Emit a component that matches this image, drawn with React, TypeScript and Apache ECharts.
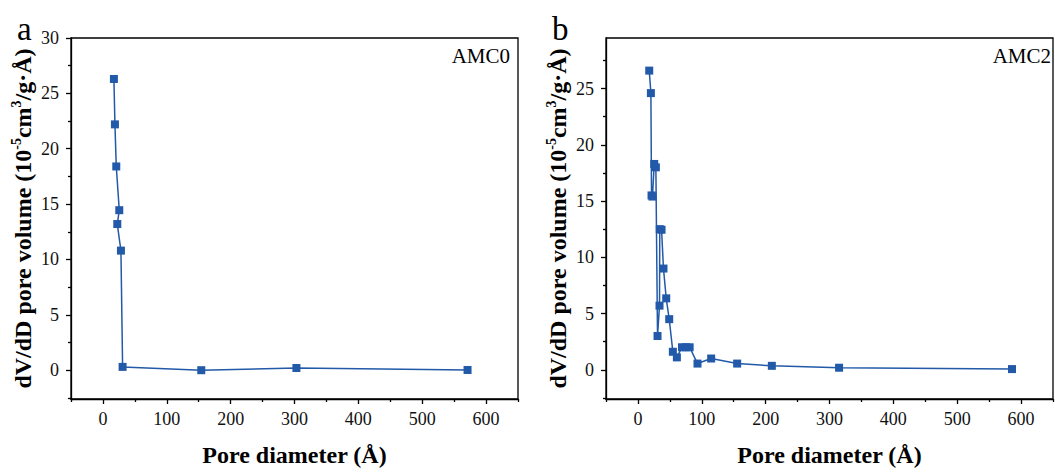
import React, { useEffect, useRef } from "react";
import * as echarts from "echarts";

// Panel a: AMC0
const amc0X = [17.2, 18.8, 20.9, 25.6, 22.5, 28.2, 30.8, 154, 303, 571];
const amc0Y = [26.3, 22.2, 18.4, 14.45, 13.2, 10.8, 0.3, 0.0, 0.2, 0.02];

// Panel b: AMC2
const amc2X = [17.7, 20.3, 21.3, 22.8, 25.5, 28.1, 30.7, 33.8, 34.2, 37.0, 40.0, 44.3, 49.0, 54.7, 61.0, 69.0, 75.0, 81.0, 93.3, 114.7, 155.4, 209.7, 315.0, 585.8];
const amc2Y = [26.6, 24.6, 15.5, 15.4, 18.3, 18.0, 3.0, 5.7, 12.5, 12.45, 9.0, 6.35, 4.5, 1.6, 1.1, 2.0, 2.0, 2.0, 0.55, 1.0, 0.55, 0.35, 0.18, 0.06];

const xMajorTicks = [0, 100, 200, 300, 400, 500, 600];
const xMinorTicks = [-50, 50, 150, 250, 350, 450, 550, 650];
const yMajorTicksA = [0, 5, 10, 15, 20, 25, 30];
const yMajorTicksB = [0, 5, 10, 15, 20, 25];
const yMinorTicksA = [-2.5, 2.5, 7.5, 12.5, 17.5, 22.5, 27.5];
const yMinorTicksB = [-2.5, 2.5, 7.5, 12.5, 17.5, 22.5, 27.5];

const panelLabels = ["a", "b"];
const sampleNames = ["AMC0", "AMC2"];
const xTitle = "Pore diameter (Å)";
const yTitle = "{a|dV/dD pore volume (10}{s|-5}{a|cm}{s|3}{a|/g·Å)}";

const BLUE = "#2259a8";
const FONT = "'Liberation Serif', 'Times New Roman', serif";

export default function App() {
  const ref = useRef<HTMLDivElement>(null);
  useEffect(() => {
    if (!ref.current) return;
    const chart = echarts.init(ref.current, undefined, { renderer: "svg" });

    const grids = [
      { left: 71, top: 38, width: 447, height: 366 },
      { left: 606, top: 38, width: 447, height: 366 },
    ];
    const yRanges = [
      [-2.6, 30],
      [-2.6, 29.5],
    ];
    const yMajors = [yMajorTicksA, yMajorTicksB];
    const yMinors = [yMinorTicksA, yMinorTicksB];

    const axisLine = { show: true, onZero: false, lineStyle: { color: "#000", width: 1.3 } };
    const hiddenLine = { show: false, onZero: false };
    const xAxes: any[] = [];
    const yAxes: any[] = [];
    for (let g = 0; g < 2; g++) {
      xAxes.push({
        type: "value",
        gridIndex: g,
        min: -50,
        max: 650,
        position: "bottom",
        axisLine,
        splitLine: { show: false },
        axisTick: { show: true, length: 5, inside: false, customValues: xMajorTicks, lineStyle: { color: "#000", width: 1.3 } },
        axisLabel: { show: true, customValues: xMajorTicks, margin: 11, fontFamily: FONT, fontSize: 18, color: "#111" },
        name: xTitle,
        nameLocation: "middle",
        nameGap: 44,
        nameTextStyle: { fontFamily: FONT, fontSize: 24, fontWeight: "bold", color: "#000" },
      });
      xAxes.push({
        type: "value",
        gridIndex: g,
        min: -50,
        max: 650,
        position: "bottom",
        axisLine: hiddenLine,
        splitLine: { show: false },
        axisTick: { show: true, length: 3, customValues: xMinorTicks, lineStyle: { color: "#000", width: 1.3 } },
        axisLabel: { show: false },
      });
      yAxes.push({
        type: "value",
        gridIndex: g,
        min: yRanges[g][0],
        max: yRanges[g][1],
        position: "left",
        axisLine,
        splitLine: { show: false },
        axisTick: { show: true, length: 5, customValues: yMajors[g], lineStyle: { color: "#000", width: 1.3 } },
        axisLabel: { show: true, customValues: yMajors[g], margin: 12, fontFamily: FONT, fontSize: 18, color: "#111" },
        name: yTitle,
        nameLocation: "middle",
        nameGap: 34,
        nameTextStyle: {
          rich: {
            a: { fontFamily: FONT, fontSize: 24, fontWeight: "bold", color: "#000", lineHeight: 28 },
            s: { fontFamily: FONT, fontSize: 14, fontWeight: "bold", color: "#000", verticalAlign: "top", lineHeight: 28, padding: [0, 0, 10, 0] },
          },
        },
      });
      yAxes.push({
        type: "value",
        gridIndex: g,
        min: yRanges[g][0],
        max: yRanges[g][1],
        position: "left",
        axisLine: hiddenLine,
        splitLine: { show: false },
        axisTick: { show: true, length: 3, customValues: yMinors[g], lineStyle: { color: "#000", width: 1.3 } },
        axisLabel: { show: false },
      });
    }

    const makeData = (xs: number[], ys: number[]) => xs.map((x, i) => [x, ys[i]]);
    const seriesCommon = {
      type: "line",
      symbol: "rect",
      symbolSize: 8,
      itemStyle: { color: BLUE },
      lineStyle: { color: BLUE, width: 1.5 },
    };

    chart.setOption({
      animation: false,
      grid: grids.map((g) => ({ ...g, show: true, borderColor: "#000", borderWidth: 1.3, backgroundColor: "transparent" })),
      xAxis: xAxes,
      yAxis: yAxes,
      series: [
        { ...seriesCommon, xAxisIndex: 0, yAxisIndex: 0, data: makeData(amc0X, amc0Y) },
        { ...seriesCommon, xAxisIndex: 2, yAxisIndex: 2, data: makeData(amc2X, amc2Y) },
      ],
      graphic: [
        { type: "text", left: 17, top: 12, style: { text: panelLabels[0], fontFamily: FONT, fontSize: 33, fill: "#000" } },
        { type: "text", left: 552, top: 12, style: { text: panelLabels[1], fontFamily: FONT, fontSize: 33, fill: "#000" } },
        { type: "text", right: 545, top: 45, style: { text: sampleNames[0], fontFamily: FONT, fontSize: 21, fill: "#000" } },
        { type: "text", right: 4, top: 45, style: { text: sampleNames[1], fontFamily: FONT, fontSize: 21, fill: "#000" } },
      ],
    });
    return () => chart.dispose();
  }, []);
  return <div ref={ref} style={{ position: "fixed", left: 0, top: 0, width: 1055, height: 472, background: "#fff" }} />;
}
